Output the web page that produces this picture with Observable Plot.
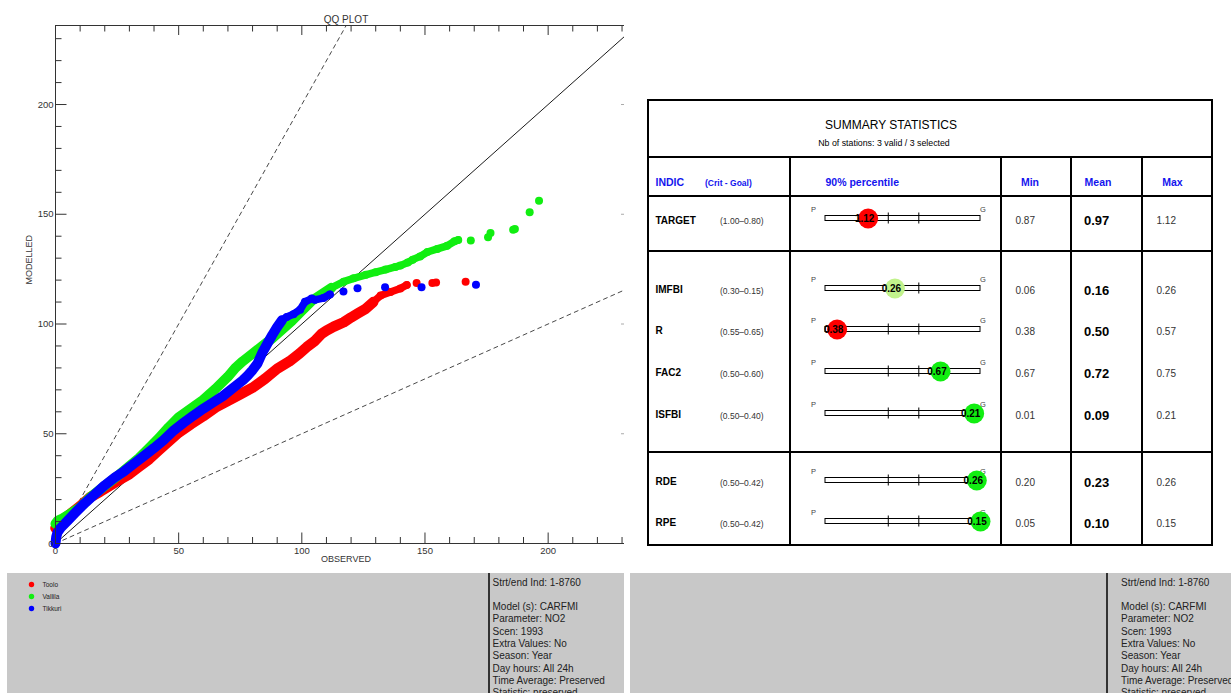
<!DOCTYPE html>
<html><head><meta charset="utf-8">
<script src="https://cdn.jsdelivr.net/npm/d3@7"></script>
<script src="https://cdn.jsdelivr.net/npm/@observablehq/plot@0.6"></script>
<style>
html,body{margin:0;padding:0;background:#fff;}
body{width:1231px;height:693px;position:relative;overflow:hidden;font-family:"Liberation Sans",Arial,sans-serif;color:#000;}
.abs{position:absolute;white-space:nowrap;line-height:1;}
.ln{position:absolute;background:#000;}
svg{overflow:visible;}
</style></head><body>
<div id="root"></div>
<script>
// ---------------- DATA ----------------
const stations = ["Toolo", "Vallila", "Tikkuri"];
const stationColors = ["#ff0000", "#11ee11", "#0000ff"];

// QQ plot: sorted observed vs modelled quantiles
const toolo_obs = [0,1,3,6,10,14,18,22,26,30,34,38,42,46,50,55,60,65,70,75,80,85,90,95,99,102,105,108,110,113,117,120,123,126,129,132,136,140,142.6,146.6,153,154.5,166.5];
const toolo_mod = [7,9,11,13.5,17,21,23.5,26.3,29,31.6,35,38.4,42.5,46.5,50.5,54.4,58,62,65,68,71,75,79.6,83,86.5,89.5,92,95.5,97,98.8,100.8,103,105,107,110,113,114.6,116.2,117.8,118.7,118.7,118.9,119.3];

const vallila_obs = [0,1,3,6,10,14,18,22,26,30,34,38,42,46,50,55,60,65,70,73,76,80,84,88,92,96,100,104,108,112,117,121,126,130,134,138,140,143,145,148,151,155,159,162,163.5,168.6,175.6,176.6,185.8,186.5,192.5,196.3];
const vallila_mod = [9,10.5,11.5,13.6,16.5,21,24.5,28,31.5,35.3,39,43.5,48,53,57.5,61.5,65.5,70.5,76,80,83,86.5,90,93.5,97.5,101.5,106,110.5,113.5,116.5,119.3,120.8,122.4,123.6,124.8,126,126.6,128,129.3,130.8,132.8,134.2,135.6,137.7,138.3,138,139.5,141.5,143,143.3,150.9,156.2];

const tikkuri_obs = [0,0.3,0.8,2,5,8,12,16,20,24,28,32,36,40,44,48,52,56,60,64,68,72,76,78,80,82,84,86,88,89.9,91.9,93.9,96.6,99.3,101.3,104,105.3,108.7,111.4,116.9,122.6,133.8,148.6,170.7];
const tikkuri_mod = [0,3,5,7,10.5,14,18.5,22.5,26.5,30,33,36.5,40,43.5,47.2,51.5,55,58.3,61.4,64.3,67.2,70.8,74.3,76.5,79,82,87,91,95,98.5,101.7,103.2,104.5,106.5,110.1,111.6,111,111.8,113.5,114.8,116.3,116.7,116.7,117.9];

const qqTitle = "QQ PLOT", xLabel = "OBSERVED", yLabel = "MODELLED";
const xDomain = [0, 231], yDomain = [0, 236];
const xMajorTicks = [0, 50, 100, 150, 200];
const xMinorTicks = [10,20,30,40,60,70,80,90,110,120,130,140,160,170,180,190,210,220,230];
const yMajorTicks = [0, 50, 100, 150, 200];
const yMinorTicks = [10,20,30,40,60,70,80,90,110,120,130,140,160,170,180,190,210,220,230];
const refFactors = [1, 2, 0.5];   // 1:1 line and factor-of-2 lines

// Summary statistics table
const tableTitle = "SUMMARY STATISTICS";
const tableSubtitle = "Nb of stations: 3 valid / 3 selected";
const headers = ["INDIC", "(Crit - Goal)", "90% percentile", "Min", "Mean", "Max"];
const indicators = ["TARGET", "IMFBI", "R", "FAC2", "ISFBI", "RDE", "RPE"];
const critGoal = ["(1.00–0.80)", "(0.30–0.15)", "(0.55–0.65)", "(0.50–0.60)", "(0.50–0.40)", "(0.50–0.42)", "(0.50–0.42)"];
const p90 = [1.12, 0.26, 0.38, 0.67, 0.21, 0.26, 0.15];
const p90Position = [0.275, 0.448, 0.075, 0.742, 0.959, 0.976, 1.0]; // position along P..G bar
const p90Status = ["poor", "fair", "poor", "good", "good", "good", "good"];
const minVals = [0.87, 0.06, 0.38, 0.67, 0.01, 0.20, 0.05];
const meanVals = [0.97, 0.16, 0.50, 0.72, 0.09, 0.23, 0.10];
const maxVals = [1.12, 0.26, 0.57, 0.75, 0.21, 0.26, 0.15];
const barThresholds = [0.405, 0.602];

// Info panel
const infoLines = ["Strt/end Ind: 1-8760", "", "Model (s): CARFMI", "Parameter: NO2", "Scen: 1993", "Extra Values: No", "Season: Year", "Day hours: All 24h", "Time Average: Preserved", "Statistic: preserved"];

// ---------------- LAYOUT / STYLE ----------------
const statusColor = {poor: "#ff0000", fair: "#c2f28c", good: "#11ee11"};
const FONT = '"Liberation Sans", Arial, sans-serif';
const root = document.getElementById("root");

function place(el, left, top) {
  const d = document.createElement("div");
  d.className = "abs"; d.style.left = left + "px"; d.style.top = top + "px";
  d.appendChild(el); root.appendChild(d); return d;
}
function text(x, y, s, css, center) {
  const d = document.createElement("div");
  d.className = "abs"; d.textContent = s;
  d.style.cssText += css;
  d.style.left = x + "px"; d.style.top = y + "px";
  d.style.transform = center ? "translate(-50%,-50%)" : "translate(0,-50%)";
  root.appendChild(d); return d;
}
function line(l, t, w, h, color) {
  const d = document.createElement("div");
  d.className = "ln";
  d.style.left = l + "px"; d.style.top = t + "px"; d.style.width = w + "px"; d.style.height = h + "px";
  if (color) d.style.background = color;
  root.appendChild(d);
}

// ---------------- QQ PLOT ----------------
const W = 630, H = 570, mL = 55, mR = 6, mT = 25, mB = 27;
const innerW = W - mL - mR, innerH = H - mT - mB;
const seriesData = [
  {name: stations[0], color: stationColors[0], obs: toolo_obs, mod: toolo_mod, bandEnd: 130, chainEnd: 142.6, bandW: 10.5},
  {name: stations[1], color: stationColors[1], obs: vallila_obs, mod: vallila_mod, bandEnd: 112, chainEnd: 163.5, bandW: 10},
  {name: stations[2], color: stationColors[2], obs: tikkuri_obs, mod: tikkuri_mod, bandEnd: 92.5, chainEnd: 112, bandW: 10}
];
const seriesMarks = [];
for (const s of seriesData) {
  const pts = s.obs.map((o, i) => ({x: o, y: s.mod[i]}));
  seriesMarks.push(
    Plot.line(pts.filter(p => p.x <= s.chainEnd), {x: "x", y: "y", stroke: s.color, strokeWidth: 7.5, strokeLinecap: "round", strokeLinejoin: "round"}),
    Plot.line(pts.filter(p => p.x <= s.bandEnd), {x: "x", y: "y", stroke: s.color, strokeWidth: s.bandW, strokeLinecap: "round", strokeLinejoin: "round"}),
    Plot.dot(pts, {x: "x", y: "y", r: 4, fill: s.color, stroke: "none"})
  );
}
const refMarks = refFactors.map(f => Plot.line([[0, 0], [xDomain[1], f * xDomain[1]]], {
  stroke: f === 1 ? "#000" : "#333", strokeWidth: 0.9, strokeDasharray: f === 1 ? null : "4,4", clip: true
}));

const qq = Plot.plot({
  width: W, height: H, marginLeft: mL, marginRight: mR, marginTop: mT, marginBottom: mB,
  x: {domain: xDomain}, y: {domain: yDomain},
  style: {fontFamily: FONT, fontSize: "9.5px", color: "#333", background: "transparent", overflow: "visible"},
  marks: [
    ...refMarks,
    ...seriesMarks,
    Plot.ruleX([xDomain[0]], {stroke: "#333", strokeWidth: 1}),
    Plot.ruleY([yDomain[0]], {stroke: "#333", strokeWidth: 1}),
    Plot.ruleY([yDomain[1]], {stroke: "#333", strokeWidth: 1}),
    Plot.tickX(xMinorTicks, {x: d => d, insetTop: innerH - 6, stroke: "#333"}),
    Plot.tickX(xMajorTicks, {x: d => d, insetTop: innerH - 10.5, stroke: "#333"}),
    Plot.tickX(xMinorTicks, {x: d => d, insetBottom: innerH - 6.5, stroke: "#333"}),
    Plot.tickX(xMajorTicks, {x: d => d, insetBottom: innerH - 10, stroke: "#333"}),
    Plot.tickY(yMinorTicks, {y: d => d, insetRight: innerW - 6.5, stroke: "#333"}),
    Plot.tickY(yMajorTicks, {y: d => d, insetRight: innerW - 11.5, stroke: "#333"}),
    Plot.tickY(yMajorTicks.filter(v => v > 0), {y: d => d, insetLeft: innerW - 3, stroke: "#aaa"}),
    Plot.axisX(xMajorTicks, {anchor: "bottom", tickSize: 0, tickPadding: 4, label: null, fill: "#333"}),
    Plot.axisY(yMajorTicks, {anchor: "left", tickSize: 0, tickPadding: 2, label: null, fill: "#333"}),
    Plot.text([qqTitle], {text: d => d, frameAnchor: "top", dx: 6, dy: -9.5, fontSize: 10, fill: "#333"}),
    Plot.text([xLabel], {text: d => d, frameAnchor: "bottom", dx: 6, dy: 18.5, fontSize: 9, fill: "#333"}),
    Plot.text([yLabel], {text: d => d, frameAnchor: "left", rotate: -90, dx: -26, fontSize: 9, fill: "#333"})
  ]
});
place(qq, 0, 0);

// ---------------- SUMMARY TABLE ----------------
const T = {left: 648, right: 1212, top: 100, bottom: 545, hLines: [157, 196, 251, 452], vLines: [790, 1001, 1071, 1142]};
line(T.left - 1, T.top - 1, T.right - T.left + 2, 2);
line(T.left - 1, T.bottom - 1, T.right - T.left + 2, 2);
line(T.left - 1, T.top - 1, 2, T.bottom - T.top + 2);
line(T.right - 1, T.top - 1, 2, T.bottom - T.top + 2);
for (const y of T.hLines) line(T.left - 1, y - 1, T.right - T.left + 2, 2);
for (const x of T.vLines) line(x - 1, T.hLines[0], 2, T.bottom - T.hLines[0]);

text(891, 125, tableTitle, `font-size:12px;font-family:${FONT};`, true);
text(884, 143, tableSubtitle, `font-size:8.8px;font-family:${FONT};`, true);

const blue = "#1414ee";
const hy = 182;
text(655.5, hy, headers[0], `font-size:10.5px;font-weight:bold;color:${blue};font-family:${FONT};`);
text(705, hy + 0.5, headers[1], `font-size:8.5px;font-weight:bold;color:${blue};font-family:${FONT};`);
text(825.5, hy, headers[2], `font-size:10.5px;font-weight:bold;color:${blue};font-family:${FONT};`);
text(1030, hy, headers[3], `font-size:10.5px;font-weight:bold;color:${blue};font-family:${FONT};`, true);
text(1098, hy, headers[4], `font-size:10.5px;font-weight:bold;color:${blue};font-family:${FONT};`, true);
text(1172.5, hy, headers[5], `font-size:10.5px;font-weight:bold;color:${blue};font-family:${FONT};`, true);

const rowY = [220.5, 290, 331, 373, 415, 482, 523];
indicators.forEach((name, i) => {
  const y = rowY[i];
  text(655.5, y, name, `font-size:10px;font-weight:bold;font-family:${FONT};`);
  text(720, y + 0.5, critGoal[i], `font-size:8.5px;color:#333;font-family:${FONT};`);
  text(1015.5, y + 0.5, minVals[i].toFixed(2), `font-size:10px;color:#333;font-family:${FONT};`);
  text(1084, y - 0.5, meanVals[i].toFixed(2), `font-size:13px;font-weight:bold;font-family:${FONT};`);
  text(1156.5, y + 0.5, maxVals[i].toFixed(2), `font-size:10px;color:#333;font-family:${FONT};`);

  const row = {pos: p90Position[i], value: p90[i], color: statusColor[p90Status[i]]};
  const bar = Plot.plot({
    width: 211, height: 36, margin: 0, marginLeft: 35, marginRight: 21,
    x: {domain: [0, 1], axis: null},
    style: {fontFamily: FONT, background: "transparent", overflow: "visible"},
    marks: [
      Plot.rect([row], {x1: () => 0, x2: () => 1, insetTop: 15.5, insetBottom: 15.5, fill: "white", stroke: "#000", strokeWidth: 1}),
      Plot.tickX(barThresholds, {x: d => d, insetTop: 12.5, insetBottom: 12.5, stroke: "#000"}),
      Plot.text(["P"], {text: d => d, x: () => 0, dx: -12, dy: -9, fontSize: 7.5, fill: "#444"}),
      Plot.text(["G"], {text: d => d, x: () => 1, dx: 2.5, dy: -8.5, fontSize: 7.5, fill: "#444"}),
      Plot.dot([row], {x: "pos", r: 10, fill: "color", stroke: "none"}),
      Plot.text([row], {x: "pos", text: d => d.value.toFixed(2), dx: -3.5, dy: 0.5, fontSize: 10, fontWeight: "bold", fill: "#000"})
    ],
    color: {type: "identity"}
  });
  place(bar, 790, y - 2.5 - 18);
});

// ---------------- INFO PANELS ----------------
line(7, 573, 617, 120, "#c8c8c8");
line(630, 573, 601, 120, "#c8c8c8");
line(488, 573, 2, 120, "#333");
line(1105.5, 573, 2, 120, "#333");
for (const x0 of [492.5, 1121]) {
  infoLines.forEach((s, k) => {
    if (s) text(x0, 582.5 + 12.3 * k, s, `font-size:10px;color:#222;font-family:${FONT};`);
  });
}

// legend
const legend = Plot.plot({
  width: 80, height: 45, margin: 0,
  y: {type: "point", domain: stations, range: [10, 35], padding: 0, axis: null},
  color: {domain: stations, range: stationColors},
  style: {fontFamily: FONT, background: "transparent", overflow: "visible"},
  marks: [
    Plot.dot(stations, {y: d => d, fill: d => d, frameAnchor: "left", dx: 11, r: 2.7}),
    Plot.text(stations, {y: d => d, text: d => d, frameAnchor: "left", dx: 22, textAnchor: "start", fontSize: 6.5, fill: "#222"})
  ]
});
place(legend, 20, 573);
</script>
</body></html>
